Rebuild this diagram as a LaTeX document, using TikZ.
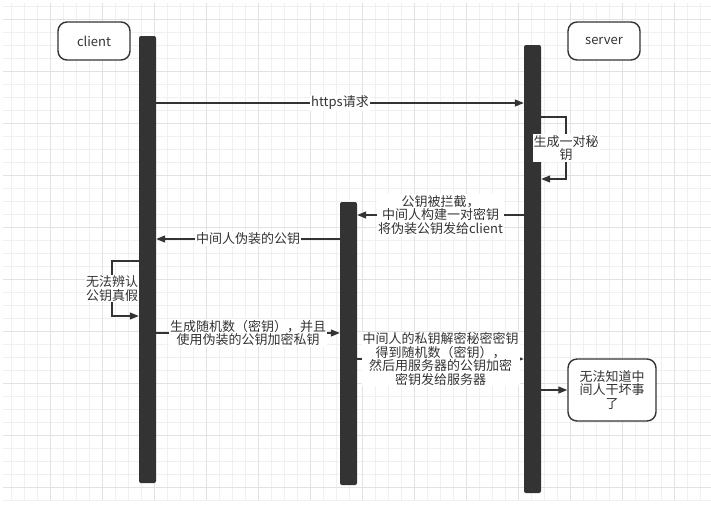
\documentclass[tikz,border=0pt]{standalone}
\usepackage{fontspec}
\setmainfont{Noto Sans CJK SC}
\usepackage{xcolor}
\usetikzlibrary{arrows.meta}
\definecolor{barGray}{HTML}{333333}
\definecolor{gridMinor}{HTML}{F0F0F0}
\definecolor{gridMajor}{HTML}{E2E2E2}

\begin{document}
\begin{tikzpicture}[
    x=1pt, y=-1pt,
    every node/.style={font=\fontsize{13}{13.5}\selectfont, text=barGray},
    actor/.style={rectangle, draw=barGray, line width=1.4pt, rounded corners=9pt, fill=white, minimum width=72pt, minimum height=38pt, align=center},
    lifebar/.style={rectangle, fill=barGray, rounded corners=2pt, minimum width=17pt, inner sep=0pt},
    msg/.style={draw=barGray, line width=1.2pt, -{Triangle[length=9pt,width=7pt]}},
    msg_label/.style={fill=white, inner sep=1pt, align=center}
]
\useasboundingbox (0,0) rectangle (711,507);

% Grid
\foreach \gx in {11,24,...,710} \draw[gridMinor, line width=0.8pt] (\gx,3) -- (\gx,500);
\foreach \gy in {6,19,...,500} \draw[gridMinor, line width=0.8pt] (3,\gy) -- (711,\gy);
\foreach \gx in {50,102,...,710} \draw[gridMajor, line width=0.8pt] (\gx,3) -- (\gx,500);
\foreach \gy in {19,71,...,500} \draw[gridMajor, line width=0.8pt] (3,\gy) -- (711,\gy);

% Nodes
\node[actor] (client) at (94,41) {client};
\node[actor] (server) at (604,41) {server};
\node[lifebar, minimum height=447pt] (cbar) at (147.5,259.5) {};
\node[lifebar, minimum height=283pt] (mbar) at (348.5,343.5) {};
\node[lifebar, minimum height=448pt] (sbar) at (532.5,269) {};
\node[actor, minimum width=88pt, minimum height=62pt] (done) at (612,390) {无法知道中\\间人干坏事\\了};

% Edges
\draw[msg] (cbar.east |- 0,103) -- node[msg_label] {https请求} (sbar.west |- 0,103);
\draw[msg] (sbar.east |- 0,117) -| node[msg_label, pos=0.75] {生成一对秘\\钥} (566,179) -- (sbar.east |- 0,179);
\draw[msg] (sbar.west |- 0,215) -- node[msg_label] {公钥被拦截，\\中间人构建一对密钥\\将伪装公钥发给client} (mbar.east |- 0,215);
\draw[msg] (mbar.west |- 0,239) -- node[msg_label] {中间人伪装的公钥} (cbar.east |- 0,239);
\draw[msg] (cbar.west |- 0,261) -| node[msg_label, pos=0.75] {无法辨认\\公钥真假} (112,316) -- (cbar.west |- 0,316);
\draw[msg] (cbar.east |- 0,333) -- node[msg_label] {生成随机数（密钥），并且\\使用伪装的公钥加密私钥} (mbar.west |- 0,333);
\draw[msg] (mbar.east |- 0,359) -- node[msg_label] {中间人的私钥解密秘密密钥\\得到随机数（密钥），\\然后用服务器的公钥加密\\密钥发给服务器} (sbar.west |- 0,359);
\draw[msg] (sbar.east |- done.west) -- (done.west);

\end{tikzpicture}
\end{document}
